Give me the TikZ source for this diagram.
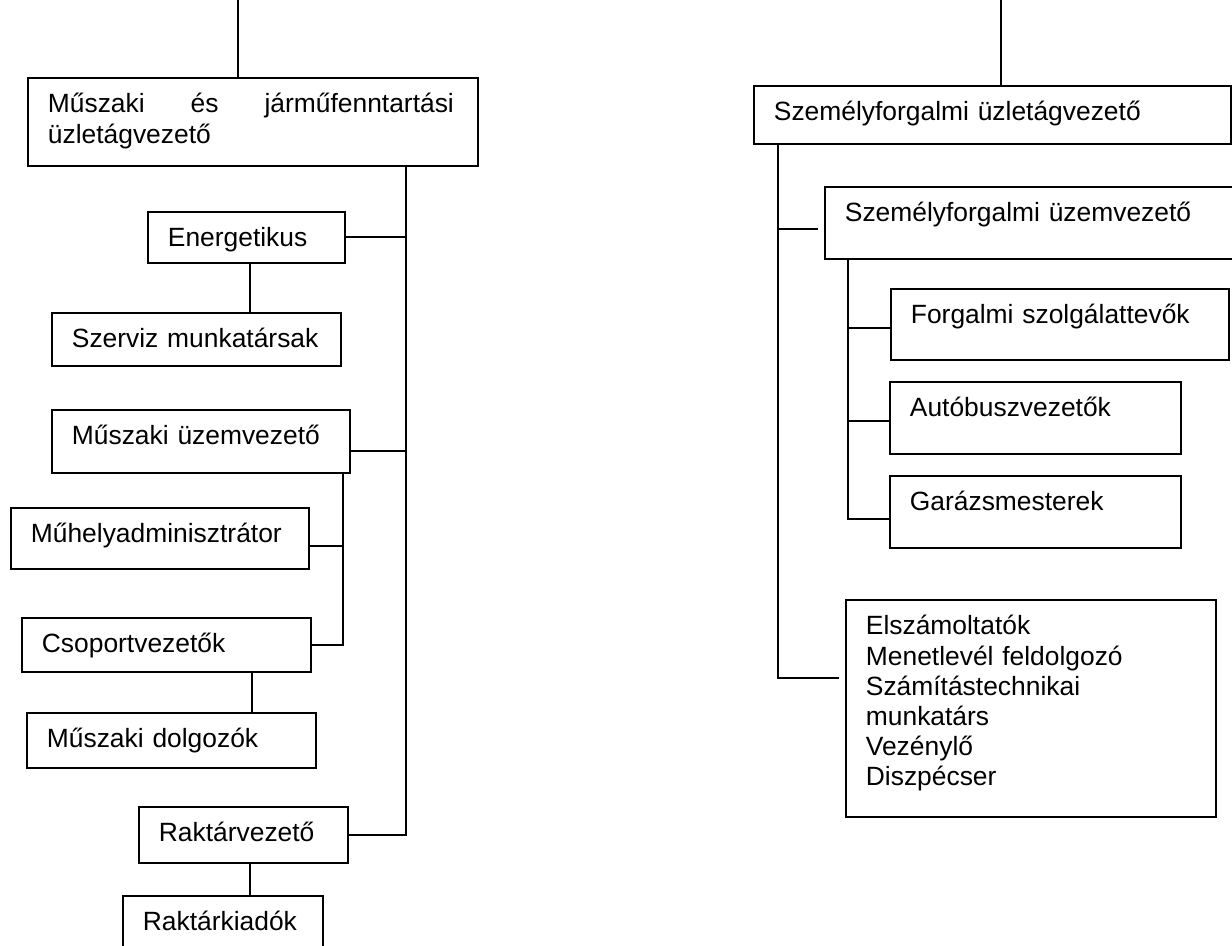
\documentclass[tikz,border=0pt]{standalone}
\usepackage{fontspec}
\setmainfont{Liberation Sans}
\begin{document}
\begin{tikzpicture}[x = 0.5pt, y = -0.5pt, line width = 0.9pt,
                    font = \fontsize{13.2pt}{15.1pt}\selectfont,
                    doboz/.style = {draw, anchor = north west, align = left, inner xsep = 10pt, inner ysep = 0pt, text height = 17.5pt}]
        \useasboundingbox (0,0) rectangle (1232,946);
        % muszaki ag
        \node[doboz, text width = 205pt, text depth = 26.5pt] (uzletagM) at (27,77) {\leavevmode\hbox to 203pt{Műszaki\hfil és\hfil járműfenntartási}\\üzletágvezető};
        \node[doboz, text width = 78.5pt, text depth = 8pt] (energetikus) at (147,211) {Energetikus};
        \node[doboz, text width = 124.5pt, text depth = 9pt] (szerviz) at (51,312) {Szerviz munkatársak};
        \node[doboz, text width = 129pt, text depth = 14pt] (uzemvezM) at (51,409) {Műszaki üzemvezető};
        \node[doboz, text width = 129pt, text depth = 13pt] (muhely) at (10,507) {Műhelyadminisztrátor};
        \node[doboz, text width = 124.5pt, text depth = 9.5pt] (csoport) at (21,617) {Csoportvezetők};
        \node[doboz, text width = 124.5pt, text depth = 10pt] (dolgozok) at (26,712) {Műszaki dolgozók};
        \node[doboz, text width = 84.5pt, text depth = 10.5pt] (raktarvez) at (138,806) {Raktárvezető};
        \node[doboz, text width = 80pt, text depth = 17.5pt] (kiadok) at (122,895) {Raktárkiadók};

        \coordinate (felsoM) at (238,0);
        \draw (felsoM) -- (felsoM |- uzletagM.north);
        \coordinate (gerincM) at (uzletagM.south -| 406,0);
        \draw (gerincM) |- (raktarvez.east);
        \draw (energetikus.east) -- (energetikus.east -| gerincM);
        \coordinate (uzemM) at ([yshift=-5pt]uzemvezM.east);
        \draw (uzemM) -- (uzemM -| gerincM);
        \draw (energetikus.south -| 250,0) -- (szerviz.north -| 250,0);
        \coordinate (gerincU) at ([xshift=-4pt]uzemvezM.south east);
        \draw (gerincU) |- (csoport.east);
        \coordinate (muhelyC) at ([yshift=-4pt]muhely.east);
        \draw (muhelyC) -- (muhelyC -| gerincU);
        \draw (csoport.south -| 252,0) -- (dolgozok.north -| 252,0);
        \draw (raktarvez.south -| 250,0) -- (kiadok.north -| 250,0);

        % szemelyforgalmi ag
        \node[doboz, text width = 218.5pt, text depth = 11.5pt] (uzletagSz) at (753,85) {Személyforgalmi üzletágvezető};
        \node[doboz, text width = 202pt, text depth = 18.5pt] (uzemvezSz) at (824,186) {Személyforgalmi üzemvezető};
        \node[doboz, text width = 149pt, text depth = 18pt] (forgalmi) at (890,288) {Forgalmi szolgálattevők};
        \node[doboz, text width = 125.5pt, text depth = 18.5pt] (autobusz) at (889,381) {Autóbuszvezetők};
        \node[doboz, text width = 125.5pt, text depth = 18.5pt] (garazs) at (889,475) {Garázsmesterek};
        \node[doboz, text width = 165pt, text depth = 91pt] (egyeb) at (845,599) {Elszámoltatók\\Menetlevél feldolgozó\\Számítástechnikai\\munkatárs\\Vezénylő\\Diszpécser};

        \coordinate (felsoSz) at (1001,0);
        \draw (felsoSz) -- (felsoSz |- uzletagSz.north);
        \coordinate (gerincSz) at (uzletagSz.south -| 778,0);
        \coordinate (egyebC) at (egyeb.west |- 0,678);
        \draw[shorten >= 3pt] (gerincSz) |- (egyebC);
        \coordinate (uzemSzC) at ([yshift=-3pt]uzemvezSz.west);
        \draw[shorten >= 3pt] (uzemSzC -| gerincSz) -- (uzemSzC);
        \coordinate (gerincSz2) at (uzemvezSz.south -| 848,0);
        \draw (gerincSz2) |- ([yshift=-3.5pt]garazs.west);
        \coordinate (forgalmiC) at ([yshift=-2pt]forgalmi.west);
        \draw (forgalmiC) -- (forgalmiC -| gerincSz2);
        \coordinate (autobuszC) at ([yshift=-1.5pt]autobusz.west);
        \draw (autobuszC) -- (autobuszC -| gerincSz2);
\end{tikzpicture}
\end{document}
